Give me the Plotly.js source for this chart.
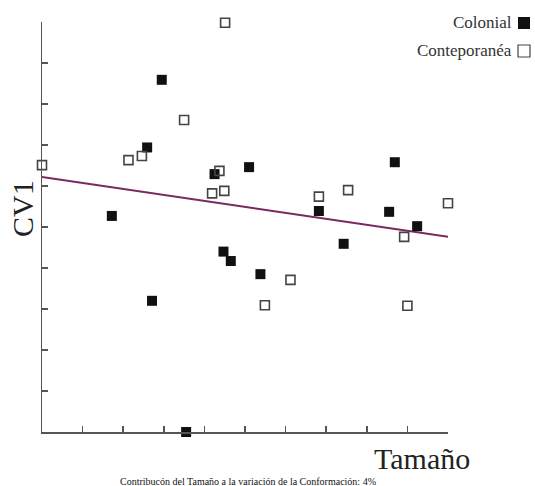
<!DOCTYPE html>
<html>
<head>
<meta charset="utf-8">
<script src="https://cdn.plot.ly/plotly-3.0.1.min.js"></script>
<style>html,body{margin:0;padding:0;background:#fff;}#chart{width:535px;height:486px;}</style>
</head>
<body>
<div id="chart"></div>
<script>
// Colonial (filled squares)
const colonialX = [2.95, 2.59, 1.72, 4.25, 5.10, 4.47, 4.65, 5.38, 2.71, 3.55, 6.82, 7.43, 8.69, 8.55, 9.24];
const colonialY = [8.59, 6.94, 5.27, 6.29, 6.46, 4.40, 4.17, 3.85, 3.20, 0.00, 5.39, 4.59, 6.58, 5.37, 5.02];
// Conteporanéa (open squares)
const contempX = [4.51, 3.50, 0.00, 2.13, 2.46, 4.37, 4.19, 4.49, 6.82, 7.54, 10.0, 8.92, 6.12, 5.49, 9.00];
const contempY = [9.98, 7.61, 6.51, 6.63, 6.73, 6.37, 5.82, 5.88, 5.74, 5.90, 5.58, 4.76, 3.71, 3.09, 3.08];
// Regression line
const fitX = [0, 10];
const fitY = [6.22, 4.76];

const tickVals = [0,1,2,3,4,5,6,7,8,9,10];

const serif = "Liberation Serif, Times New Roman, serif";

const traces = [
  {x: fitX, y: fitY, mode: 'lines', line: {color: '#7a2860', width: 2}, hoverinfo: 'skip', showlegend: false},
  {x: colonialX, y: colonialY, mode: 'markers', name: 'Colonial', cliponaxis: false,
   marker: {symbol: 'square', size: 10, color: '#111'}},
  {x: contempX, y: contempY, mode: 'markers', name: 'Conteporanéa', cliponaxis: false,
   marker: {symbol: 'square-open', size: 9, color: '#444', line: {width: 1.6, color: '#444'}}}
];

const axisCommon = {
  range: [0, 10], tickvals: tickVals, showticklabels: false, ticks: 'inside', ticklen: 6,
  tickwidth: 1.5, tickcolor: '#555', showline: true, linecolor: '#555', linewidth: 1.5,
  showgrid: false, zeroline: false, fixedrange: true
};

const layout = {
  width: 535, height: 486,
  margin: {l: 42, r: 87, t: 22, b: 54},
  paper_bgcolor: '#fff', plot_bgcolor: '#fff',
  showlegend: false,
  xaxis: Object.assign({}, axisCommon),
  yaxis: Object.assign({}, axisCommon),
  font: {family: serif, color: '#222'},
  annotations: [
    {text: 'CV1', xref: 'paper', yref: 'paper', x: (23-42)/406, y: (432-209)/410,
     xanchor: 'center', yanchor: 'middle', textangle: -90, showarrow: false,
     font: {family: serif, size: 30, color: '#222'}},
    {text: 'Tamaño', xref: 'paper', yref: 'paper', x: (422-42)/406, y: (432-458)/410,
     xanchor: 'center', yanchor: 'middle', showarrow: false,
     font: {family: serif, size: 30, color: '#222'}},
    {text: 'Contribucón del Tamaño a la variación de la Conformación: 4%', xref: 'paper', yref: 'paper',
     x: (248-42)/406, y: (432-481)/410, xanchor: 'center', yanchor: 'middle', showarrow: false,
     font: {family: serif, size: 10, color: '#111'}},
    {text: 'Colonial', xref: 'paper', yref: 'paper', x: (514-42)/406, y: (432-22)/410,
     xanchor: 'right', yanchor: 'middle', showarrow: false,
     font: {family: serif, size: 17, color: '#333'}},
    {text: 'Conteporanéa', xref: 'paper', yref: 'paper', x: (514-42)/406, y: (432-51)/410,
     xanchor: 'right', yanchor: 'middle', showarrow: false,
     font: {family: serif, size: 17, color: '#333'}}
  ],
  shapes: [
    {type: 'rect', xref: 'paper', yref: 'paper', x0: (518-42)/406, x1: (530-42)/406,
     y0: (432-29)/410, y1: (432-17)/410, fillcolor: '#111', line: {width: 0}},
    {type: 'rect', xref: 'paper', yref: 'paper', x0: (518-42)/406, x1: (530-42)/406,
     y0: (432-57)/410, y1: (432-45)/410, fillcolor: 'rgba(0,0,0,0)', line: {width: 1.2, color: '#444'}}
  ]
};

Plotly.newPlot('chart', traces, layout, {displayModeBar: false, staticPlot: true});
</script>
</body>
</html>
